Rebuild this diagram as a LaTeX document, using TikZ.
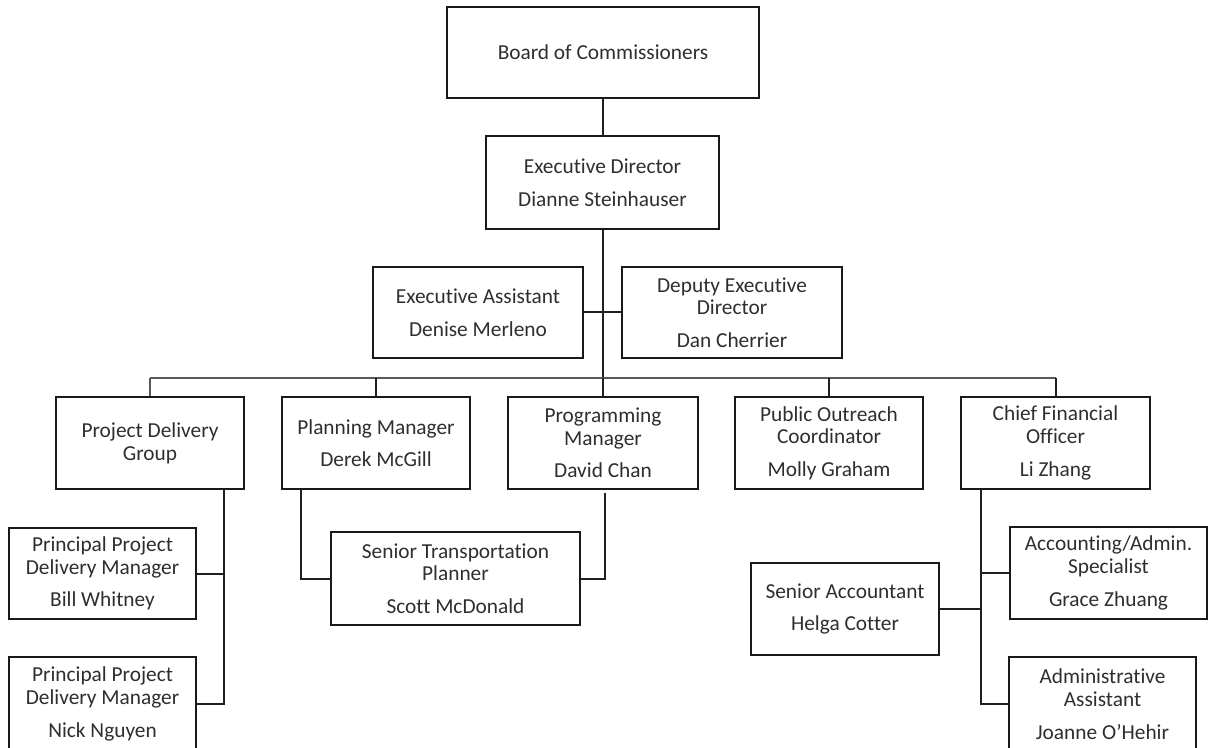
\documentclass[tikz,border=0pt]{standalone}
\usepackage{fontspec}
\setmainfont{Carlito}[RawFeature={-liga;-clig}]
\begin{document}
\begin{tikzpicture}[x=0.75pt,y=-0.75pt,
  bx/.style n args={2}{draw=black!90, line width=1.5pt, rectangle, inner sep=0pt,
     minimum width=#1*0.75pt, minimum height=#2*0.75pt, align=center,
     text=black!82, font=\fontsize{16}{17}\selectfont},
  ln/.style={draw=black!88, line width=1.5pt},
  busln/.style={draw=black!65, line width=1pt}]
\useasboundingbox (0,0) rectangle (1209,748);

% top levels
\node[bx={312}{91}] (board) at (603,52.5) {Board of Commissioners};
\node[bx={233}{93}] (ed) at (602.5,182.5) {Executive Director\\[7.5pt]Dianne Steinhauser};
\node[bx={210}{91}] (ea) at (478,312.5) {Executive Assistant\\[7.5pt]Denise Merleno};
\node[bx={220}{91}] (ded) at (732,312.5) {Deputy Executive\\Director\\[7.5pt]Dan Cherrier};

% second row
\node[bx={188}{92}] (pdg) at (150,443) {Project Delivery\\Group};
\node[bx={188}{92}] (pm) at (376,443) {Planning Manager\\[7.5pt]Derek McGill};
\node[bx={190}{92}] (prm) at (603,443) {Programming\\Manager\\[7.5pt]David Chan};
\node[bx={188}{92}] (po) at (829,443) {Public Outreach\\Coordinator\\[7.5pt]Molly Graham};
\node[bx={189}{92}] (cfo) at (1055.5,443) {Chief Financial\\Officer\\[7.5pt]Li Zhang};

% third level
\node[bx={187}{91}] (ppdm1) at (102.5,573.5) {Principal Project\\Delivery Manager\\[7.5pt]Bill Whitney};
\node[bx={187}{94}] (ppdm2) at (102.5,704) {Principal Project\\Delivery Manager\\[7.5pt]Nick Nguyen};
\node[bx={249}{93}] (stp) at (455.5,578.5) {Senior Transportation\\Planner\\[7.5pt]Scott McDonald};
\node[bx={188}{92}] (sa) at (845,609) {Senior Accountant\\[7.5pt]Helga Cotter};
\node[bx={197}{92}] (acc) at (1108.5,573) {Accounting/Admin.\\Specialist\\[7.5pt]Grace Zhuang};
\node[bx={187}{94}] (aa) at (1102.5,704) {Administrative\\Assistant\\[7.5pt]Joanne O’Hehir};

% coordinates
\coordinate (busL) at (150,378);
\coordinate (busR) at (1056,378);
\coordinate (busM) at (603,378);
\coordinate (pdgx) at (224,489);
\coordinate (pmx) at (301,489);
\coordinate (prmx) at (605,493);
\coordinate (cfox) at (981,489);

% connectors
\draw[ln] (board.south) -- (board.south |- ed.north);
\draw[ln] (ed.south -| busM) -- (busM);
\draw[ln] (ea.east) -- (ded.west);
\draw[busln] (busL) -- (busR);
\draw[busln] (busL) -- (pdg.north);
\draw[ln] (pm.north) -- (pm.north |- busL);
\draw[ln] (prm.north) -- (prm.north |- busL);
\draw[ln] (po.north) -- (po.north |- busL);
\draw[ln] (cfo.north) -- (cfo.north |- busL);

\draw[ln] (pdgx) |- (ppdm2.east);
\draw[ln] (ppdm1.east) -- (ppdm1.east -| pdgx);
\draw[ln] (pmx) |- (stp.west);
\draw[ln] (prmx) |- (stp.east);
\draw[ln] (cfox) |- (aa.west);
\draw[ln] (acc.west) -- (acc.west -| cfox);
\draw[ln] (sa.east) -- (sa.east -| cfox);
\end{tikzpicture}
\end{document}
